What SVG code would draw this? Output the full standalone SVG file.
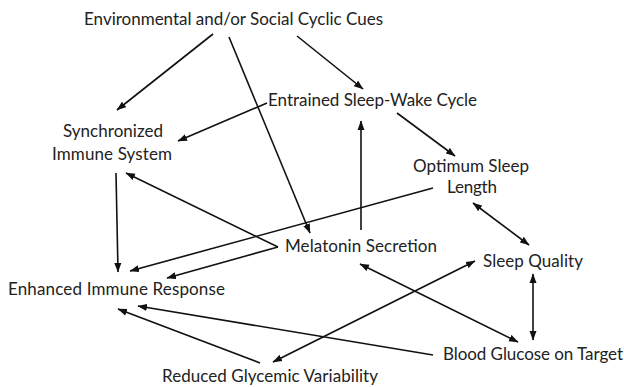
<svg xmlns="http://www.w3.org/2000/svg" width="624" height="387" viewBox="0 0 624 387">
<style>
text{font-family:Lato,"Open Sans","Liberation Sans",sans-serif;font-size:17px;fill:#222;}
.c line{stroke:#111;stroke-width:1.6;fill:none;marker-end:url(#ah);}
.c line.bi{marker-start:url(#ah);}
</style>
<defs>
<marker id="ah" markerUnits="userSpaceOnUse" markerWidth="10" markerHeight="8" viewBox="0 0 10 8" refX="9" refY="4" orient="auto-start-reverse">
<path d="M0,0.5 L9.5,4 L0,7.5 Z" fill="#111"/>
</marker>
</defs>
<rect width="624" height="387" fill="#fff"/>
<g class="c" id="connectors">
<line x1="213" y1="34" x2="117" y2="110"/>
<line x1="229" y1="37" x2="310" y2="233"/>
<line x1="297" y1="36" x2="363" y2="89"/>
<line x1="267" y1="103" x2="178" y2="141"/>
<line x1="397" y1="113" x2="455" y2="156"/>
<line x1="361" y1="230" x2="361" y2="121"/>
<line x1="278" y1="247" x2="126" y2="173"/>
<line x1="278" y1="247" x2="167" y2="278"/>
<line x1="116" y1="173" x2="118" y2="272"/>
<line x1="433" y1="188" x2="130" y2="271"/>
<line class="bi" x1="473" y1="203" x2="529" y2="245"/>
<line class="bi" x1="533" y1="274" x2="533" y2="340"/>
<line class="bi" x1="518" y1="342" x2="360" y2="264"/>
<line class="bi" x1="273" y1="362" x2="475" y2="261"/>
<line x1="433" y1="355" x2="138" y2="306"/>
<line x1="260" y1="363" x2="118" y2="309"/>
</g>
<g id="env"><text x="84" y="25" textLength="299" lengthAdjust="spacing">Environmental and/or Social Cyclic Cues</text></g>
<g id="entrained"><text x="268" y="106" textLength="209" lengthAdjust="spacing">Entrained Sleep-Wake Cycle</text></g>
<g id="synchronized"><text x="63" y="137" textLength="100" lengthAdjust="spacing">Synchronized</text><text x="52" y="160" textLength="120" lengthAdjust="spacing">Immune System</text></g>
<g id="optimum"><text x="413" y="172" textLength="116" lengthAdjust="spacing">Optimum Sleep</text><text x="447" y="193" textLength="50" lengthAdjust="spacing">Length</text></g>
<g id="melatonin"><text x="285" y="252" textLength="152" lengthAdjust="spacing">Melatonin Secretion</text></g>
<g id="sleepquality"><text x="483" y="267" textLength="100" lengthAdjust="spacing">Sleep Quality</text></g>
<g id="enhanced"><text x="8" y="295" textLength="217" lengthAdjust="spacing">Enhanced Immune Response</text></g>
<g id="bloodglucose"><text x="443" y="360" textLength="180" lengthAdjust="spacing">Blood Glucose on Target</text></g>
<g id="reduced"><text x="162" y="382" textLength="216" lengthAdjust="spacing">Reduced Glycemic Variability</text></g>
</svg>
